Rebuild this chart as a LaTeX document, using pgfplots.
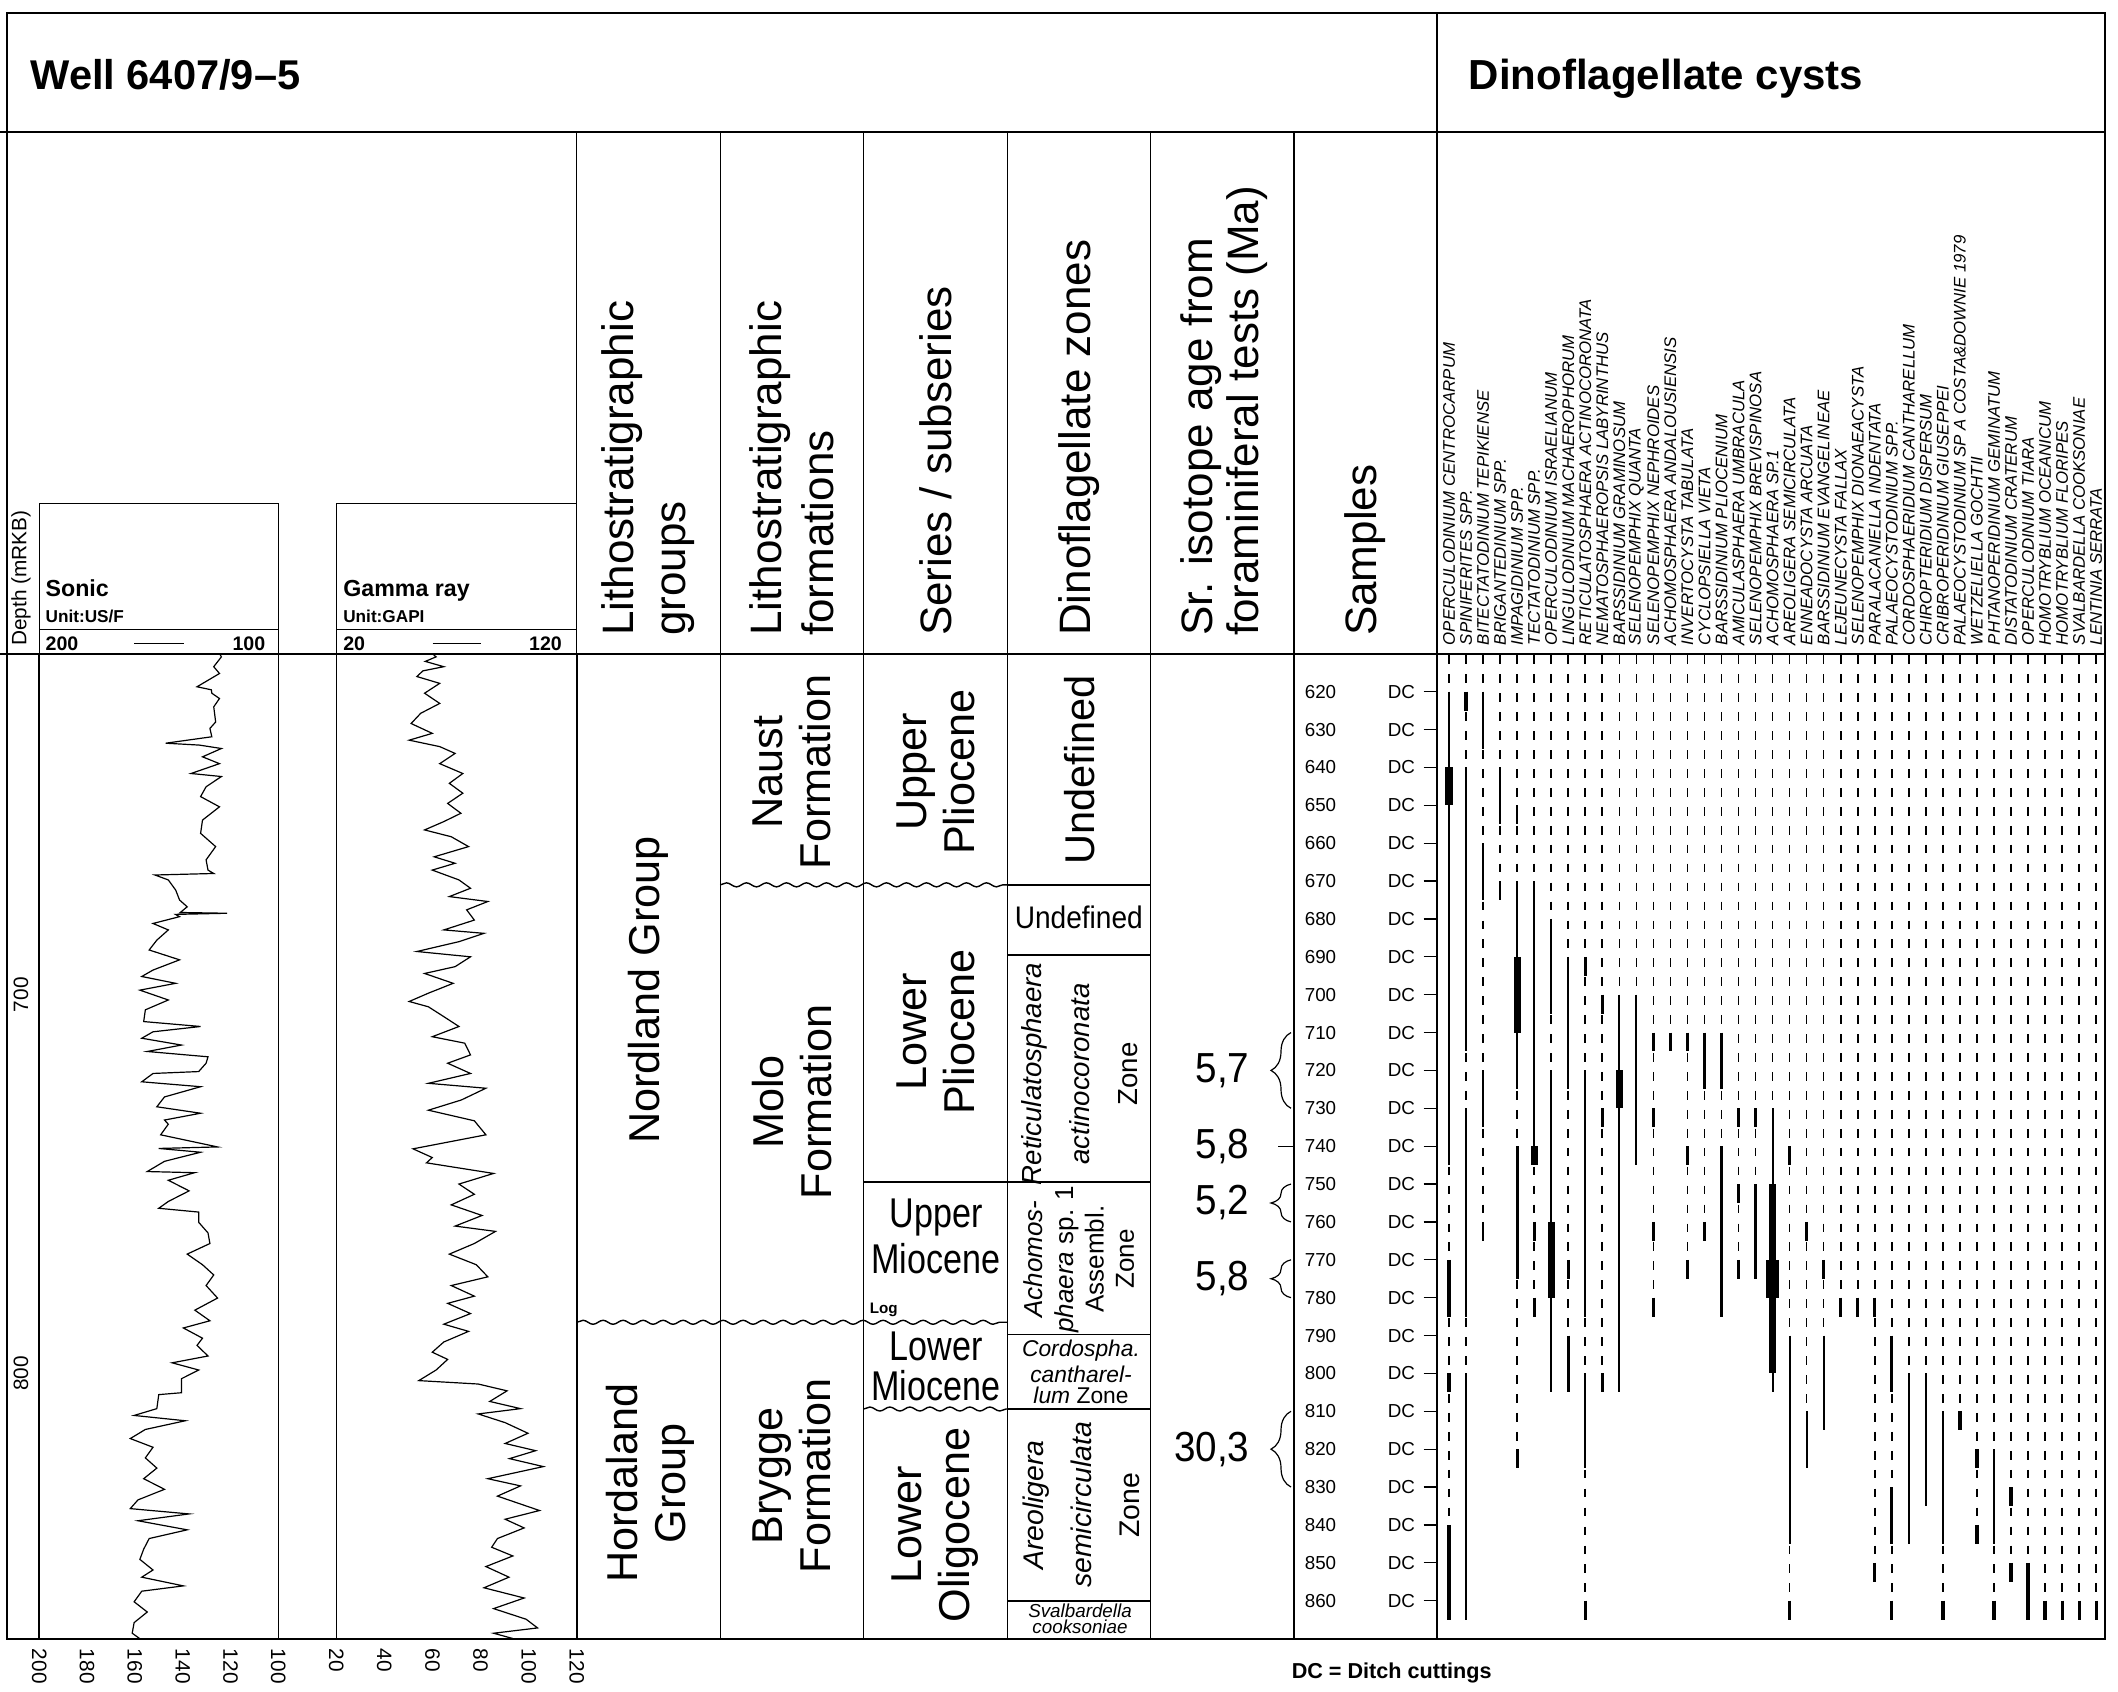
\documentclass[border=0pt]{standalone}
\usepackage{pgfplots}
\pgfplotsset{compat=1.18}
\usepackage{fontspec}
\setmainfont{Liberation Sans}
\usetikzlibrary{decorations.pathmorphing,decorations.pathreplacing}
\newcommand{\fsz}[2]{\fontsize{#1pt}{#2pt}\selectfont}
\tikzset{wavy/.style={line width=0.35pt, decorate, decoration={snake, amplitude=0.5pt, segment length=5pt}},
  rtxt/.style={rotate=90, align=center, inner sep=0pt, font=\fsz{10.8}{12}},
  htxt/.style={inner sep=0pt, anchor=base, xscale=0.82, font=\fsz{10.4}{12}},
  ztxt/.style={rotate=90, align=center, inner sep=0pt, font=\fsz{7.1}{12}}}
\pgfplotsset{depthax/.style={anchor=north west, scale only axis, height=246.175pt, ymin=610, ymax=870, y dir=reverse}}
\begin{document}
\begin{tikzpicture}
\useasboundingbox (0,0) rectangle (529.5pt,-422.75pt);
\begin{scope}[x=0.25pt,y=-0.25pt]
% ---------- frame ----------
\draw[line width=0.5pt] (7,13.5) rectangle (2105,1638.5);
\draw[line width=0.45pt] (0,132.4) -- (2105,132.4);
\draw[line width=0.5pt] (0,653.8) -- (2105,653.8);
\draw[line width=0.45pt] (1437.3,13.5) -- (1437.3,1638.5);
\foreach \x in {576.8,720.2,863.6,1007.1,1150.5,1293.9} \draw[line width=0.3pt] (\x,132.4) -- (\x,1638.5);
% ---------- titles ----------
\node[anchor=base west, inner sep=0pt, font=\bfseries\fsz{10.4}{12}] at (29.7,89.5) {Well 6407/9–5};
\node[anchor=base west, inner sep=0pt, font=\bfseries\fsz{10.5}{12}] at (1468,89.5) {Dinoflagellate cysts};
% ---------- log headers ----------
\draw[line width=0.3pt] (39.2,503.8) rectangle (278.3,653.8);
\draw[line width=0.3pt] (39.2,629.3) -- (278.3,629.3);
\draw[line width=0.3pt] (336.3,503.8) rectangle (576.8,653.8);
\draw[line width=0.3pt] (336.3,629.3) -- (576.8,629.3);
\node[anchor=base west, inner sep=0pt, font=\bfseries\fsz{5.8}{7}] at (44.8,596.7) {Sonic};
\node[anchor=base west, inner sep=0pt, font=\bfseries\fsz{4.3}{5}] at (44.8,622) {Unit:US/F};
\node[anchor=base west, inner sep=0pt, font=\bfseries\fsz{4.9}{6}] at (44.8,650) {200};
\node[anchor=base east, inner sep=0pt, font=\bfseries\fsz{4.9}{6}] at (266,650) {100};
\draw[line width=0.3pt] (134,643.3) -- (183.7,643.3);
\node[anchor=base west, inner sep=0pt, font=\bfseries\fsz{5.8}{7}] at (342.5,596.7) {Gamma ray};
\node[anchor=base west, inner sep=0pt, font=\bfseries\fsz{4.3}{5}] at (342.5,622) {Unit:GAPI};
\node[anchor=base west, inner sep=0pt, font=\bfseries\fsz{4.9}{6}] at (342.5,650) {20};
\node[anchor=base east, inner sep=0pt, font=\bfseries\fsz{4.9}{6}] at (562.6,650) {120};
\draw[line width=0.3pt] (432.5,643.3) -- (481.4,643.3);
% depth labels
\node[rotate=90, anchor=west, inner sep=0pt, font=\fsz{5.2}{6}] at (21,646.7) {Depth (mRKB)};
\node[rotate=90, inner sep=0pt, font=\fsz{5.2}{6}] at (21,994.7) {700};
\node[rotate=90, inner sep=0pt, font=\fsz{5.2}{6}] at (21,1373.4) {800};
% ---------- column headers ----------
\node[rotate=90, anchor=west, align=left, inner sep=0pt, font=\fsz{11}{13}] at (648.5,636.7) {Lithostratigraphic\\groups};
\node[rotate=90, anchor=west, align=left, inner sep=0pt, font=\fsz{11}{13}] at (792,636.7) {Lithostratigraphic\\formations};
\node[rotate=90, anchor=west, align=left, inner sep=0pt, font=\fsz{11}{13}] at (935.4,636.7) {Series / subseries};
\node[rotate=90, anchor=west, align=left, inner sep=0pt, font=\fsz{11}{13}] at (1078.8,636.7) {Dinoflagellate zones};
\node[rotate=90, anchor=west, align=left, inner sep=0pt, font=\fsz{11}{11.5}] at (1224,636.7) {Sr. isotope age from\\foraminiferal tests (Ma)};
\node[rotate=90, anchor=west, align=left, inner sep=0pt, font=\fsz{11}{13}] at (1365.6,636.7) {Samples};
% species names
\foreach \n [count=\i] in {OPERCULODINIUM CENTROCARPUM, SPINIFERITES SPP., BITECTATODINIUM TEPIKIENSE, BRIGANTEDINIUM SPP., IMPAGIDINIUM SPP., TECTATODINIUM SPP., OPERCULODINIUM ISRAELIANUM, LINGULODINIUM MACHAEROPHORUM, RETICULATOSPHAERA ACTINOCORONATA, NEMATOSPHAEROPSIS LABYRINTHUS, BARSSIDINIUM GRAMINOSUM, SELENOPEMPHIX QUANTA, SELENOPEMPHIX NEPHROIDES, ACHOMOSPHAERA ANDALOUSIENSIS, INVERTOCYSTA TABULATA, CYCLOPSIELLA VIETA, BARSSIDINIUM PLIOCENIUM, AMICULASPHAERA UMBRACULA, SELENOPEMPHIX BREVISPINOSA, ACHOMOSPHAERA SP.1, AREOLIGERA SEMICIRCULATA, ENNEADOCYSTA ARCUATA, BARSSIDINIUM EVANGELINEAE, LEJEUNECYSTA FALLAX, SELENOPEMPHIX DIONAEACYSTA, PARALACANIELLA INDENTATA, PALAEOCYSTODINIUM SPP., CORDOSPHAERIDIUM CANTHARELLUM, CHIROPTERIDIUM DISPERSUM, CRIBROPERIDINIUM GIUSEPPEI, PALAEOCYSTODINIUM SP A COSTA\&DOWNIE 1979, WETZELIELLA GOCHTII, PHTANOPERIDINIUM GEMINATUM, DISTATODINIUM CRATERUM, OPERCULODINIUM TIARA, HOMOTRYBLIUM OCEANICUM, HOMOTRYBLIUM FLORIPES, SVALBARDELLA COOKSONIAE, LENTINIA SERRATA}
  \node[rotate=90, anchor=west, inner sep=0pt, font=\itshape\fsz{4.2}{5}] at ({1449+17.03*(\i-1)},646) {\n};
% ---------- body texts ----------
\node[rtxt] at (648.5,990) {Nordland Group};
\node[rtxt] at (650,1483) {Hordaland\\Group};
\node[rtxt] at (792,772) {Naust\\Formation};
\node[rtxt] at (792,1102) {Molo\\Formation};
\node[rtxt] at (792,1476) {Brygge\\Formation};
\node[rtxt] at (935.4,772) {Upper\\Pliocene};
\node[rtxt] at (935.4,1032) {Lower\\Pliocene};
\node[rtxt] at (935.4,1525) {Lower\\Oligocene};
\node[htxt] at (936,1227) {Upper};
\node[htxt] at (936,1273) {Miocene};
\node[htxt] at (936,1360) {Lower};
\node[htxt] at (936,1400) {Miocene};
\node[anchor=base west, inner sep=0pt, font=\bfseries\fsz{3.8}{4}] at (869,1313) {Log};
\node[rtxt, font=\fsz{10.4}{12}] at (1080,770) {Undefined};
\node[inner sep=0pt, anchor=base, xscale=0.9, font=\fsz{7.8}{9}] at (1078.8,928) {Undefined};
\node[ztxt, font=\fsz{6.9}{12}] at (1080,1074) {\textit{Reticulatosphaera}\\\textit{actinocoronata}\\Zone};
\node[ztxt, font=\fsz{6.5}{7.6}] at (1079,1259) {\textit{Achomos-}\\\textit{phaera} sp. 1\\Assembl.\\Zone};
\node[inner sep=0pt, align=center, font=\fsz{5.7}{5.3}] at (1081,1372) {\textit{Cordospha.}\\\textit{cantharel-}\\\textit{lum} Zone};
\node[ztxt] at (1081,1505) {\textit{Areoligera}\\\textit{semicirculata}\\Zone};
\node[inner sep=0pt, align=center, font=\itshape\fsz{4.7}{4.1}] at (1080,1619) {Svalbardella\\cooksoniae};
\node[anchor=west, inner sep=0pt, font=\bfseries\fsz{5.4}{6}] at (1291,1672.5) {DC = Ditch cuttings};
\end{scope}

% ---------- Sonic log ----------
\begin{axis}[depthax, at={(9.8pt,-163.45pt)}, width=59.775pt,
  xmin=100, xmax=200, x dir=reverse,
  xtick={100,120,...,200}, xtick style={draw=none}, xtick align=inside, major x tick style={draw=none},
  xticklabel style={rotate=-90, anchor=west, inner sep=0pt, font=\fsz{5.2}{6}},
  xticklabel shift=2.4pt,
  /pgf/number format/assume math mode=true,
  ytick=\empty, minor ytick={620,630,...,860}, ytick pos=left, ytick align=outside,
  minor tick length=0.75pt, minor y tick style={line width=0.3pt},
  axis line style={line width=0.35pt}]
\addplot[black, line width=0.3pt, mark=none] coordinates {
(124.5,610)(123.8,610.8)(127,613.4)(124.6,615.2)(134,618.7)(128,619.5)(127.8,620.4)(124.6,621.8)(127,624)(126.2,628)(128.6,629.7)(127.8,631.9)(147.1,633.6)(133,634.1)(123.8,635)(131.7,637.2)(124.6,639)(136.5,641.6)(123.8,642.4)(130.2,645.1)(132.5,647.7)(124.6,650.4)(131.7,653.9)(132.5,657.4)(126.2,660.9)(130.2,664.4)(129.4,667.1)(127,668)(151.6,668.4)(146,669.7)(142.9,672.4)(141.3,675)(138.1,676.8)(141,678.3)(121.4,678.5)(143,678.8)(141.3,679.4)(152.4,681.2)(146,682.9)(150.8,685.6)(154,688.2)(141.3,690.8)(152.4,693.5)(157.1,695.2)(142.9,697)(157.9,698.8)(146,701.4)(155.6,704)(156.3,707.1)(132.5,708.4)(152.4,709.8)(157.1,711.5)(140.5,713.3)(154.8,715)(129.4,716.4)(130.2,718.1)(133.3,720.3)(152.4,720.8)(157.1,723)(132.5,724.3)(147.6,727)(150.8,729.6)(132.5,731.3)(147.6,733.1)(146,734.2)(149.2,737)(125.4,740.2)(150,740.6)(132.5,741.6)(147.6,744)(154.8,746.7)(135,747)(146,749)(137.3,751.8)(146,754.6)(150,756.4)(133.3,757.4)(133.3,760.1)(129.4,762.9)(128.6,765.7)(138.1,768.5)(131.7,771.3)(127,774)(130.2,776.8)(125.4,780.1)(134.9,783.3)(128.6,786.1)(139.7,788)(131.7,790.7)(134,792.6)(129.4,795.4)(144.4,797.2)(133.3,799.1)(140.5,801.4)(140.5,805.1)(150,805.6)(150.8,809.3)(160.3,811.1)(138.9,812.5)(155.6,814.8)(161.9,817.2)(152.4,819.5)(155.6,822.3)(150.8,825)(156.3,827.8)(147.6,830.6)(158.7,833.4)(161.9,835.7)(137.3,837.1)(158.7,838.9)(138.1,841.3)(154,843.6)(156.3,846.4)(157.9,849.1)(152.4,851.9)(157.1,853.8)(139.7,856.1)(157.1,857.5)(160.3,860.3)(154.8,863)(160.3,865.8)(161.1,868.6)(158,870)};
\end{axis}

% ---------- Gamma ray log ----------
\begin{axis}[depthax, at={(84.075pt,-163.45pt)}, width=60.125pt,
  xmin=20, xmax=120,
  xtick={20,40,...,120}, xtick style={draw=none},
  xticklabel style={rotate=-90, anchor=west, inner sep=0pt, font=\fsz{5.2}{6}},
  xticklabel shift=2.4pt,
  /pgf/number format/assume math mode=true,
  ytick=\empty, axis line style={line width=0.35pt}]
\addplot[black, line width=0.3pt, mark=none] coordinates {
(60,610)(61.5,610.8)(57,612)(64.7,613.4)(56,614.5)(53.5,616)(63,617.8)(56.7,620.4)(63,623.1)(55.1,625.7)(51.1,628.4)(59.9,631)(50.3,632.8)(63,634.5)(69.4,636.3)(63,639)(72.6,641.6)(67,644.2)(72.6,646.8)(66.3,649.5)(71.8,652.1)(64.7,654.3)(56.7,656.5)(67.8,658.3)(75,660.9)(60.7,663.6)(69.4,665.3)(59.9,667.1)(71,669.7)(75.8,671.9)(67,674.1)(83,675.4)(74.2,677.6)(77.4,680.3)(64.7,682.9)(81.4,683.8)(71,686)(53.5,688.6)(75.8,690)(69.4,692.6)(56.7,694.4)(68.6,697)(58.3,699.6)(50.3,701.8)(58.3,703.2)(64.7,705.8)(71,708.4)(59.9,711.1)(73.4,712.8)(75.8,715.9)(66.3,718.1)(75.8,720.8)(58.3,723.4)(82.2,724.7)(72,727.8)(58.3,730.5)(77.4,733.3)(82.2,737)(51.9,740.7)(59.9,743)(57.5,744.4)(85.4,747.2)(71,750)(77.4,752.7)(67.8,755.5)(80.6,758.3)(69.4,761.1)(86.2,762.5)(77.4,765.7)(67,768.5)(78.2,771.3)(83,774.5)(67.8,776.8)(77.4,779.6)(66.3,781.5)(75.8,784.2)(64.7,787)(75,788.9)(64.7,791.7)(59.9,794.4)(66.3,796.3)(61.5,799.1)(54.3,801.9)(79,802.8)(91,804.6)(83.8,807.4)(96.6,809.3)(79,810.7)(90.2,813)(99.7,815.8)(90.2,818.5)(102.9,820.4)(92,822.5)(106.1,824.6)(83,827.8)(96.6,829.7)(87,832.4)(104.5,836.2)(90.2,838.5)(98.1,840.8)(87,843.6)(84.6,845.9)(93.4,848.2)(82.2,851)(91.8,853.8)(81.4,856.6)(98.1,859.3)(85.4,862.1)(98.9,864.9)(103.7,867.2)(85.4,868.6)(93.4,870)};
\end{axis}

% ---------- stratigraphic columns, samples, Sr ages ----------
\begin{axis}[depthax, at={(144.2pt,-163.45pt)}, width=215.125pt,
  xmin=576.8, xmax=1437.3, hide axis, clip=false]
\addplot[black, mark=none, line width=0.45pt] coordinates {(1007.1,671)(1150.5,671)};
\addplot[black, mark=none, line width=0.45pt] coordinates {(1007.1,689.5)(1150.5,689.5)};
\addplot[black, mark=none, line width=0.45pt] coordinates {(863.6,749.4)(1150.5,749.4)};
\addplot[black, mark=none, line width=0.45pt] coordinates {(1007.1,789.7)(1150.5,789.7)};
\addplot[black, mark=none, line width=0.45pt] coordinates {(1007.1,809.3)(1150.5,809.3)};
\addplot[black, mark=none, line width=0.45pt] coordinates {(1007.1,860)(1150.5,860)};
\draw[wavy] (axis cs:720.2,671) -- (axis cs:1007.1,671);
\draw[wavy] (axis cs:576.8,786.5) -- (axis cs:1007.1,786.5);
\draw[wavy] (axis cs:863.6,809.4) -- (axis cs:1007.1,809.4);
\pgfplotsinvokeforeach{620,630,640,650,660,670,680,690,700,710,720,730,740,750,760,770,780,790,800,810,820,830,840,850,860}{
  \draw[line width=0.3pt] (axis cs:1423.5,#1) -- (axis cs:1437.3,#1);
  \node[anchor=west, inner sep=0pt, font=\fsz{4.7}{5}] at (axis cs:1304,#1) {#1};
  \node[anchor=west, inner sep=0pt, font=\fsz{4.7}{5}] at (axis cs:1387,#1) {DC};
}
\node[anchor=east, inner sep=0pt, xscale=0.92, font=\fsz{10.5}{12}] at (axis cs:1250,720) {5,7};
\node[anchor=east, inner sep=0pt, xscale=0.92, font=\fsz{10.5}{12}] at (axis cs:1250,740) {5,8};
\node[anchor=east, inner sep=0pt, xscale=0.92, font=\fsz{10.5}{12}] at (axis cs:1250,755) {5,2};
\node[anchor=east, inner sep=0pt, xscale=0.92, font=\fsz{10.5}{12}] at (axis cs:1250,775) {5,8};
\node[anchor=east, inner sep=0pt, xscale=0.92, font=\fsz{10.5}{12}] at (axis cs:1250,820) {30,3};
\draw[line width=0.3pt, decorate, decoration={brace, amplitude=5pt}] (axis cs:1291,730) -- (axis cs:1291,710);
\draw[line width=0.3pt, decorate, decoration={brace, amplitude=5pt}] (axis cs:1291,760) -- (axis cs:1291,750);
\draw[line width=0.3pt, decorate, decoration={brace, amplitude=5pt}] (axis cs:1291,780) -- (axis cs:1291,770);
\draw[line width=0.3pt, decorate, decoration={brace, amplitude=5pt}] (axis cs:1291,830) -- (axis cs:1291,810);
\draw[line width=0.3pt] (axis cs:1278,740) -- (axis cs:1294,740);
\end{axis}

% ---------- range chart ----------
\begin{axis}[depthax, at={(359.325pt,-163.45pt)}, width=166.925pt,
  xmin=0.313, xmax=39.52, hide axis, clip=false, unbounded coords=jump]
\addplot[black, mark=none, line width=0.4pt, dash pattern=on 2.178pt off 2.557pt, dash phase=4.356pt] coordinates {
(1,610)(1,865)(1,nan)(2,610)(2,865)(2,nan)(3,610)(3,765)(3,nan)(4,610)(4,675)(4,nan)(5,610)(5,825)(5,nan)
(6,610)(6,785)(6,nan)(7,610)(7,805)(7,nan)(8,610)(8,805)(8,nan)(9,610)(9,865)(9,nan)(10,610)(10,805)(10,nan)
(11,610)(11,805)(11,nan)(12,610)(12,745)(12,nan)(13,610)(13,785)(13,nan)(14,610)(14,715)(14,nan)(15,610)(15,775)(15,nan)
(16,610)(16,765)(16,nan)(17,610)(17,785)(17,nan)(18,610)(18,775)(18,nan)(19,610)(19,775)(19,nan)(20,610)(20,805)(20,nan)
(21,610)(21,865)(21,nan)(22,610)(22,825)(22,nan)(23,610)(23,815)(23,nan)(24,610)(24,785)(24,nan)(25,610)(25,785)(25,nan)
(26,610)(26,855)(26,nan)(27,610)(27,865)(27,nan)(28,610)(28,845)(28,nan)(29,610)(29,835)(29,nan)(30,610)(30,865)(30,nan)
(31,610)(31,815)(31,nan)(32,610)(32,845)(32,nan)(33,610)(33,865)(33,nan)(34,610)(34,855)(34,nan)(35,610)(35,865)(35,nan)
(36,610)(36,865)(36,nan)(37,610)(37,865)(37,nan)(38,610)(38,865)(38,nan)(39,610)(39,865)};
\addplot[black, mark=none, line width=0.55pt] coordinates {
(1,620)(1,745)(1,nan)
(2,640)(2,715)(2,nan)(2,730)(2,785)(2,nan)(2,800)(2,865)(2,nan)
(3,620)(3,635)(3,nan)(3,660)(3,675)(3,nan)(3,720)(3,735)(3,nan)(3,760)(3,765)(3,nan)
(4,640)(4,655)(4,nan)(4,670)(4,675)(4,nan)
(5,650)(5,655)(5,nan)(5,670)(5,725)(5,nan)
(6,670)(6,745)(6,nan)
(7,680)(7,705)(7,nan)(7,720)(7,805)(7,nan)
(8,690)(8,725)(8,nan)
(9,720)(9,785)(9,nan)(9,800)(9,825)(9,nan)
(11,700)(11,805)(11,nan)
(12,700)(12,745)(12,nan)
(16,710)(16,725)(16,nan)
(17,710)(17,725)(17,nan)(17,740)(17,785)(17,nan)
(19,750)(19,775)(19,nan)
(20,730)(20,805)(20,nan)
(21,790)(21,845)(21,nan)
(22,810)(22,825)(22,nan)
(23,790)(23,815)(23,nan)
(28,800)(28,845)(28,nan)
(29,800)(29,835)(29,nan)
(30,810)(30,845)(30,nan)
(33,820)(33,845)};
\addplot[black, mark=none, line width=0.8pt] coordinates {
(1,770)(1,785)(1,nan)(1,800)(1,805)(1,nan)(1,840)(1,865)(1,nan)
(2,620)(2,625)(2,nan)
(5,740)(5,775)(5,nan)(5,820)(5,825)(5,nan)
(6,760)(6,765)(6,nan)(6,780)(6,785)(6,nan)
(8,770)(8,775)(8,nan)(8,790)(8,805)(8,nan)
(9,690)(9,695)(9,nan)(9,860)(9,865)(9,nan)
(10,700)(10,705)(10,nan)(10,730)(10,735)(10,nan)(10,800)(10,805)(10,nan)
(13,710)(13,715)(13,nan)(13,730)(13,735)(13,nan)(13,760)(13,765)(13,nan)(13,780)(13,785)(13,nan)
(14,710)(14,715)(14,nan)
(15,710)(15,715)(15,nan)(15,740)(15,745)(15,nan)(15,770)(15,775)(15,nan)
(16,760)(16,765)(16,nan)
(18,730)(18,735)(18,nan)(18,750)(18,755)(18,nan)(18,770)(18,775)(18,nan)
(19,730)(19,735)(19,nan)
(21,740)(21,745)(21,nan)(21,860)(21,865)(21,nan)
(22,760)(22,765)(22,nan)
(23,770)(23,775)(23,nan)
(24,780)(24,785)(24,nan)
(25,780)(25,785)(25,nan)
(26,780)(26,785)(26,nan)(26,850)(26,855)(26,nan)
(27,790)(27,805)(27,nan)(27,830)(27,845)(27,nan)(27,860)(27,865)(27,nan)
(30,860)(30,865)(30,nan)
(31,810)(31,815)(31,nan)
(32,820)(32,825)(32,nan)(32,840)(32,845)(32,nan)
(33,860)(33,865)(33,nan)
(34,830)(34,835)(34,nan)(34,850)(34,855)(34,nan)
(35,850)(35,865)(35,nan)
(36,860)(36,865)(36,nan)(37,860)(37,865)(37,nan)(38,860)(38,865)(38,nan)(39,860)(39,865)};
\addplot[black, mark=none, line width=1.8pt] coordinates {
(1,640)(1,650)(1,nan)(5,690)(5,710)(5,nan)(6,740)(6,745)(6,nan)(7,760)(7,780)(7,nan)
(11,720)(11,730)(11,nan)(20,750)(20,770)(20,nan)(20,780)(20,800)};
\addplot[black, mark=none, line width=3.2pt] coordinates {(20,770)(20,780)};
\end{axis}
\end{tikzpicture}
\end{document}
